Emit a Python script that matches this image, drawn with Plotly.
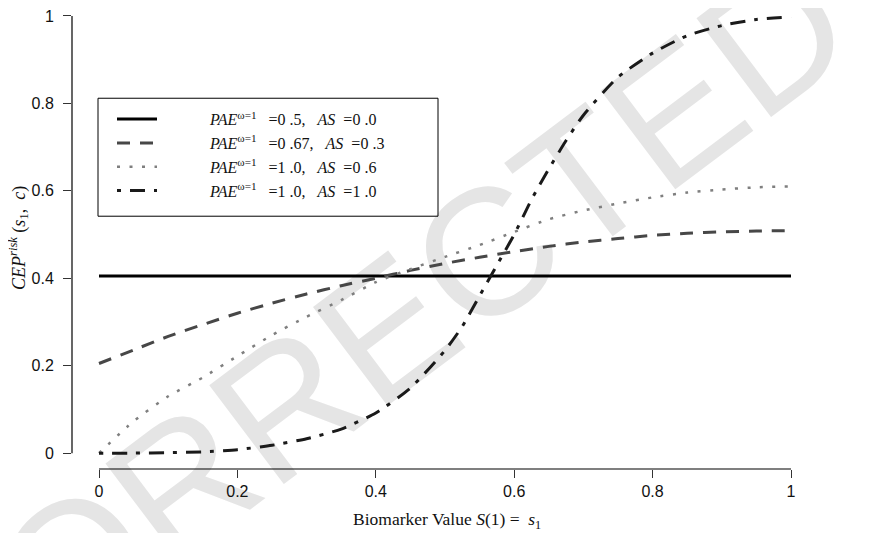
import plotly.graph_objects as go

# ---- data ----
x_grid = [0.0, 0.05, 0.1, 0.15, 0.2, 0.25, 0.3, 0.35, 0.4, 0.45, 0.5,
          0.55, 0.6, 0.65, 0.7, 0.75, 0.8, 0.85, 0.9, 0.95, 1.0]
solid_vals = [0.405] * 21
dashed_vals = [0.205, 0.236, 0.267, 0.294, 0.320, 0.343, 0.364, 0.383, 0.400, 0.418, 0.434,
               0.448, 0.461, 0.473, 0.483, 0.491, 0.498, 0.503, 0.506, 0.508, 0.509]
dotted_vals = [0.0, 0.073, 0.130, 0.173, 0.222, 0.270, 0.312, 0.350, 0.391, 0.421, 0.449,
               0.476, 0.506, 0.535, 0.555, 0.571, 0.585, 0.596, 0.603, 0.608, 0.610]
x_dd = [0.0, 0.05, 0.1, 0.15, 0.2, 0.25, 0.3, 0.35, 0.4, 0.45, 0.5, 0.525, 0.55, 0.575,
        0.6, 0.625, 0.65, 0.675, 0.7, 0.75, 0.8, 0.85, 0.9, 0.95, 1.0]
dashdot_vals = [0.0, 0.0, 0.001, 0.003, 0.008, 0.018, 0.033, 0.055, 0.092, 0.149, 0.235, 0.290,
                0.360, 0.430, 0.500, 0.580, 0.650, 0.715, 0.773, 0.860, 0.915, 0.955, 0.978,
                0.992, 0.998]

series_names = [
    "<i>PAE</i><sup>ω=1</sup>&nbsp;&nbsp; =0 .5,&nbsp;&nbsp; <i>AS</i>&nbsp; =0 .0",
    "<i>PAE</i><sup>ω=1</sup>&nbsp;&nbsp; =0 .67,&nbsp;&nbsp; <i>AS</i>&nbsp; =0 .3",
    "<i>PAE</i><sup>ω=1</sup>&nbsp;&nbsp; =1 .0,&nbsp;&nbsp; <i>AS</i>&nbsp; =0 .6",
    "<i>PAE</i><sup>ω=1</sup>&nbsp;&nbsp; =1 .0,&nbsp;&nbsp; <i>AS</i>&nbsp; =1 .0",
]
x_ticks = [0, 0.2, 0.4, 0.6, 0.8, 1]
x_tick_labels = ["0", "0.2", "0.4", "0.6", "0.8", "1"]
y_ticks = [0, 0.2, 0.4, 0.6, 0.8, 1]
y_tick_labels = ["0", "0.2", "0.4", "0.6", "0.8", "1"]

SERIF = "Liberation Serif, DejaVu Serif, serif"
SANS = "Liberation Sans, Arial, sans-serif"
pad = "&nbsp;" * 12

fig = go.Figure()
styles = [
    dict(color="#000000", width=3, dash="solid"),
    dict(color="#474747", width=3, dash="13px,10px"),
    dict(color="#7f7f7f", width=2.5, dash="3px,9.5px"),
    dict(color="#1a1a1a", width=3, dash="4px,9px,15px,9px"),
]
xs = [x_grid, x_grid, x_grid, x_dd]
ys = [solid_vals, dashed_vals, dotted_vals, dashdot_vals]
for i in range(4):
    fig.add_trace(go.Scatter(
        x=xs[i], y=ys[i], mode="lines", name=pad + series_names[i],
        line=dict(shape="spline", smoothing=0.6, **styles[i]),
        legendgroup=f"g{i}",
    ))

# page body has an 8px margin: figure drawn 8px in from the top-left
OFF = 8
W, H = 896 - OFF, 533 - OFF
ml, mr, mt, mb = 72 - OFF, 78, 0, 64
pw, ph = W - ml - mr, H - mt - mb

def px_to_paper_x(px):  # px in reference-screen pixels
    return (px - OFF - ml) / pw

def px_to_paper_y(py):
    return 1 - (py - OFF - mt) / ph

fig.update_layout(
    width=W, height=H,
    margin=dict(l=ml, r=mr, t=mt, b=mb, pad=0),
    paper_bgcolor="white", plot_bgcolor="white",
    showlegend=True,
    legend=dict(
        x=px_to_paper_x(112), y=px_to_paper_y(99), xanchor="left", yanchor="top",
        bgcolor="rgba(0,0,0,0)", borderwidth=0,
        font=dict(family=SERIF, size=16, color="#111"),
        itemwidth=40, tracegroupgap=0,
    ),
    xaxis=dict(
        range=[-27 / 692, (pw - 27) / 692],
        tickmode="array", tickvals=x_ticks, ticktext=x_tick_labels,
        ticks="outside", ticklen=8, tickwidth=1, tickcolor="#333",
        showgrid=False, zeroline=False, showline=False,
        tickfont=dict(family=SANS, size=16, color="#111"),
    ),
    yaxis=dict(
        range=[-16 / 441, (ph - 16) / 441],
        tickmode="array", tickvals=y_ticks, ticktext=y_tick_labels,
        ticks="outside", ticklen=8, tickwidth=1, tickcolor="#333",
        showgrid=False, zeroline=False, showline=False,
        tickfont=dict(family=SANS, size=16, color="#111"),
        ticklabelstandoff=6, ticklabeloverflow="allow",
    ),
)

# R-style axis lines spanning only the tick range
fig.add_shape(type="line", xref="x", yref="paper", x0=0, x1=1, y0=0, y1=0,
              line=dict(color="#000", width=1.2))
fig.add_shape(type="line", xref="paper", yref="y", x0=0, x1=0, y0=0, y1=1,
              line=dict(color="#000", width=1.2))

# legend frame
fig.add_shape(type="rect", xref="paper", yref="paper",
              x0=px_to_paper_x(98), x1=px_to_paper_x(438),
              y0=px_to_paper_y(214), y1=px_to_paper_y(95),
              line=dict(color="#000", width=1), fillcolor="rgba(0,0,0,0)")

# watermark
cx, cy = px_to_paper_x(360), px_to_paper_y(326)
fig.add_shape(type="rect", xref="paper", yref="paper",
              x0=cx - 0.05, x1=cx + 0.05, y0=cy - 0.05, y1=cy + 0.05,
              line=dict(width=0), fillcolor="rgba(0,0,0,0)", layer="below",
              label=dict(text="CORRECTED", textangle=-37, textposition="middle center",
                         font=dict(family=SANS, size=180, color="#e5e5e5")))

# axis titles
fig.add_annotation(
    text="<i>CEP</i><sup><i>risk</i></sup>&nbsp;(<i>s</i><sub>1</sub>,&nbsp;&nbsp;<i>c</i>)",
    xref="paper", yref="paper", x=px_to_paper_x(18), y=px_to_paper_y(236),
    xanchor="center", yanchor="middle", textangle=-90, showarrow=False,
    font=dict(family=SERIF, size=18, color="#111"))
fig.add_annotation(
    text="Biomarker Value <i>S</i>(1) =&nbsp; <i>s</i><sub>1</sub>",
    xref="paper", yref="paper", x=px_to_paper_x(447), y=px_to_paper_y(521),
    xanchor="center", yanchor="middle", showarrow=False,
    font=dict(family=SERIF, size=17.5, color="#111"))

fig.write_html("out.html")
